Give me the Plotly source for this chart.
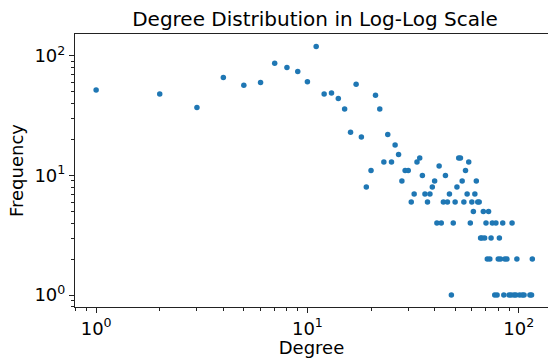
import plotly.graph_objects as go

degree = [1, 2, 3, 4, 5, 6, 7, 8, 9, 10, 11, 12, 13, 14, 15, 16, 17, 18, 19, 20,
          21, 22, 23, 24, 25, 26, 27, 28, 29, 30, 31, 32, 33, 34, 35, 36, 37, 38, 39, 40,
          41, 42, 43, 44, 45, 46, 47, 48, 49, 50, 51, 52, 53, 54, 55, 56, 57, 58, 59, 60,
          61, 62, 63, 64, 65, 66, 67, 68, 69, 70, 71, 72, 73, 74, 75, 77, 78, 79, 80, 81,
          82, 84, 85, 86, 88, 90, 92, 93, 95, 97, 98, 101, 104, 106, 113, 115, 116]
frequency = [52, 48, 37, 66, 57, 60, 87, 80, 74, 61, 120, 48, 49, 44, 36, 23, 58, 21, 8, 11,
             47, 36, 13, 22, 13, 18, 15, 9, 11, 11, 6, 7, 13, 14, 10, 7, 6, 7, 8, 9,
             4, 12, 4, 6, 10, 6, 7, 1, 4, 6, 8, 14, 14, 9, 6, 11, 7, 13, 4, 6,
             5, 7, 9, 6, 6, 3, 3, 5, 3, 4, 2, 5, 2, 3, 4, 1, 4, 1, 2, 3,
             2, 4, 1, 2, 2, 1, 1, 4, 1, 1, 2, 1, 1, 1, 1, 1, 2]

major_vals = [1, 10, 100]
major_text = ["10<sup>0</sup>", "10<sup>1</sup>", "10<sup>2</sup>"]
minor_vals = [m * 10 ** k for k in (-1, 0, 1, 2) for m in range(2, 10)]

FONT = "DejaVu Sans"

fig = go.Figure()
fig.add_trace(go.Scatter(
    x=degree, y=frequency, mode="markers",
    marker=dict(color="#1f77b4", size=5.5, line=dict(width=0)),
))

axis_common = dict(
    type="log", showgrid=False, zeroline=False,
    showline=True, linecolor="#222222", linewidth=1.2,
    ticks="outside", ticklen=5, tickwidth=1.1, tickcolor="#222222",
    tickvals=major_vals, ticktext=major_text,
    tickfont=dict(family=FONT, size=18, color="black"),
    minor=dict(tickvals=minor_vals, ticks="outside", ticklen=3, tickwidth=0.9,
               tickcolor="#222222", showgrid=False),
)

fig.update_layout(
    width=548, height=358,
    margin=dict(l=75, r=0, t=34, b=51),
    paper_bgcolor="white", plot_bgcolor="white",
    showlegend=False,
    title=dict(text="Degree Distribution in Log-Log Scale",
               font=dict(family=FONT, size=20, color="black"),
               x=315 / 548, xanchor="center", xref="container",
               y=1 - 19 / 358, yanchor="middle", yref="container"),
    xaxis=dict(axis_common, range=[-0.1, 2.1386], mirror=True,
               title=dict(text="Degree", font=dict(family=FONT, size=18, color="black"),
                          standoff=4)),
    yaxis=dict(axis_common, range=[-0.1, 2.184],
               title=dict(text="Frequency", font=dict(family=FONT, size=18, color="black"),
                          standoff=6)),
)

fig.write_html("out.html")
